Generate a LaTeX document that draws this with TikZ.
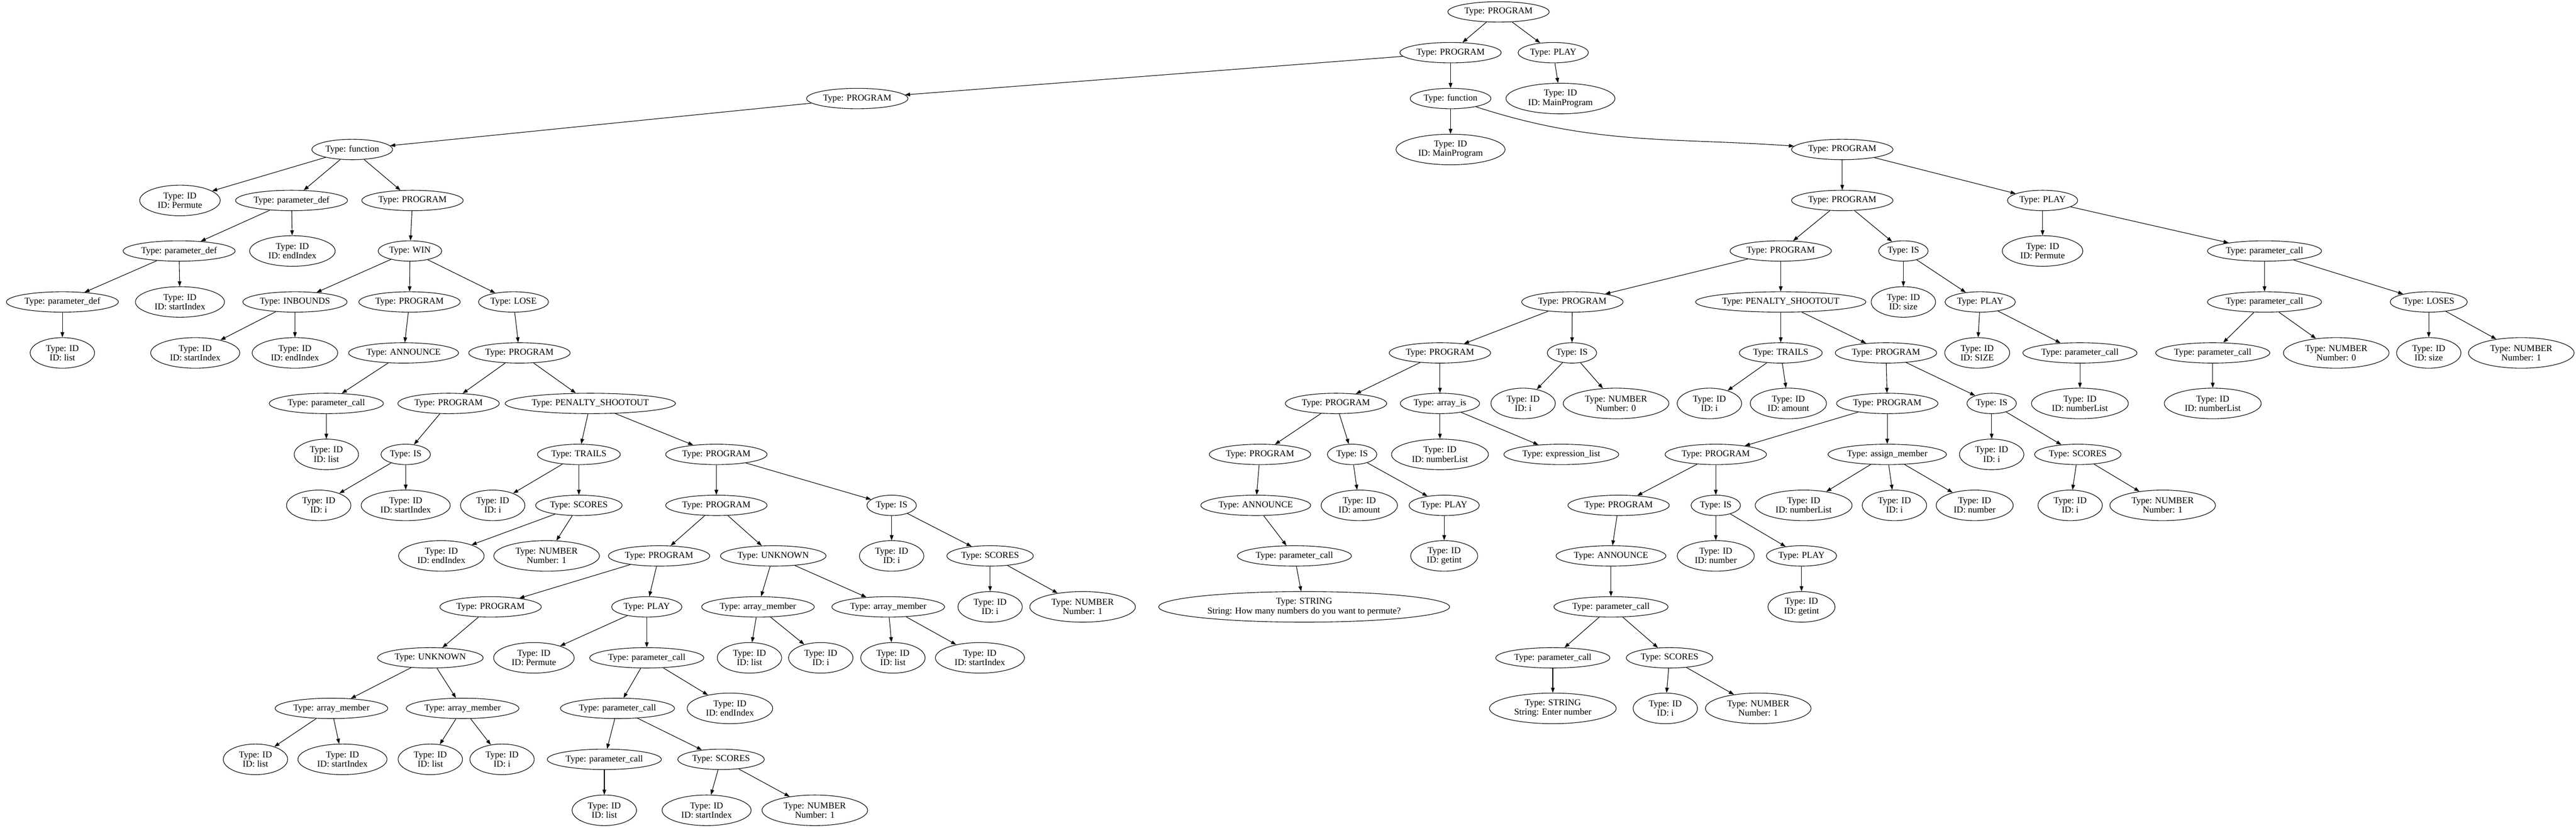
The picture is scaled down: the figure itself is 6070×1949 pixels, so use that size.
\documentclass[tikz,border=0pt]{standalone}
\usepackage{fontspec}
\newfontfamily\astfont{Liberation Serif}
\usetikzlibrary{shapes.geometric,arrows.meta}
\tikzset{
  ast/.style={draw, ellipse, line width=1pt, font=\astfont\fontsize{16}{16.5}\selectfont,
    inner xsep=3pt, inner ysep=3pt, minimum height=36pt, minimum width=54pt},
  leaf/.style={ast, align=center, inner xsep=11pt, inner ysep=2pt, minimum height=54pt},
  edge/.style={line width=1pt, -{Triangle[length=9pt,width=6.5pt]}},
}
\begin{document}
\begin{tikzpicture}[x=0.75pt,y=-0.75pt]
    \useasboundingbox (0,0) rectangle (6070,1949);
    %%% ranks 0-3
    \node[ast] (root) at (3531,28) {Type: PROGRAM};
    \foreach \n/\x/\t in {pgA/3418/PROGRAM, plA/3660/PLAY}
    \node[ast] (\n) at (\x,124) {Type: \t};
    \foreach \n/\x/\t in {pgB/2020/PROGRAM, fnB/3418/function}
    \node[ast] (\n) at (\x,232) {Type: \t};
    \node[leaf] (idB) at (3677,232) {Type: ID\\ID: MainProgram};
    \foreach \n/\x/\t in {fnC/830/function, pgC/4341/PROGRAM}
    \node[ast] (\n) at (\x,352) {Type: \t};
    \node[leaf] (idC) at (3418,352) {Type: ID\\ID: MainProgram};
    %%% rank 4
    \foreach \n/\x/\t in {pdD/687/parameter\_def, pgD1/972/PROGRAM, pgD2/4341/PROGRAM, plD/4813/PLAY}
    \node[ast] (\n) at (\x,472) {Type: \t};
    \node[leaf] (idD1) at (424,472) {Type: ID\\ID: Permute};
    %%% rank 5
    \foreach \n/\x/\t in {pdE/422/parameter\_def, winE/966/WIN, pgE/4196/PROGRAM, isE/4485/IS,
      pcE/5336/parameter\_call}
    \node[ast] (\n) at (\x,591) {Type: \t};
    \foreach \n/\x/\ta/\tb in {idE1/689/ID/{ID: endIndex}, idE2/4813/ID/{ID: Permute}}
    \node[leaf] (\n) at (\x,591) {Type: \ta\\\tb};
    %%% rank 6
    \foreach \n/\x/\t in {pdF/147/parameter\_def, inbF/695/INBOUNDS, pgF1/965/PROGRAM, loseF/1210/LOSE,
      pgF2/3705/PROGRAM, psF/4196/PENALTY\_SHOOTOUT, plF/4666/PLAY, pcF/5336/parameter\_call, lsF/5723/LOSES}
    \node[ast] (\n) at (\x,711) {Type: \t};
    \foreach \n/\x/\ta/\tb in {idF1/424/ID/{ID: startIndex}, idF2/4485/ID/{ID: size}}
    \node[leaf] (\n) at (\x,711) {Type: \ta\\\tb};
    %%% rank 7
    \foreach \n/\x/\t in {anG/951/ANNOUNCE, pgG1/1224/PROGRAM, pgG2/3393/PROGRAM, isG/3704/IS,
      trG/4196/TRAILS, pgG3/4444/PROGRAM, pcG1/4901/parameter\_call, pcG2/5214/parameter\_call}
    \node[ast] (\n) at (\x,831) {Type: \t};
    \foreach \n/\x/\ta/\tb in {idG1/147/ID/{ID: list}, idG2/460/ID/{ID: startIndex}, idG3/695/ID/{ID: endIndex},
      idG4/4659/ID/{ID: SIZE}, nmG1/5505/NUMBER/{Number: 0}, idG5/5723/ID/{ID: size}, nmG2/5941/NUMBER/{Number: 1}}
    \node[leaf] (\n) at (\x,831) {Type: \ta\\\tb};
    %%% rank 8
    \foreach \n/\x/\t in {pcH/769/parameter\_call, pgH1/1057/PROGRAM, psH/1391/PENALTY\_SHOOTOUT,
      pgH2/3148/PROGRAM, aiH/3393/array\_is, pgH3/4447/PROGRAM, isH/4693/IS}
    \node[ast] (\n) at (\x,950) {Type: \t};
    \foreach \n/\x/\ta/\tb in {idH1/3589/ID/{ID: i}, nmH/3808/NUMBER/{Number: 0}, idH2/4028/ID/{ID: i},
      idH3/4214/ID/{ID: amount}, idH4/4901/ID/{ID: numberList}, idH5/5214/ID/{ID: numberList}}
    \node[leaf] (\n) at (\x,950) {Type: \ta\\\tb};
    %%% rank 9
    \foreach \n/\x/\t in {isI/956/IS, trI/1364/TRAILS, pgI1/1688/PROGRAM, pgI2/2969/PROGRAM, isI2/3186/IS,
      elI/3679/expression\_list, pgI3/4043/PROGRAM, amI/4447/assign\_member, scI/4896/SCORES}
    \node[ast] (\n) at (\x,1070) {Type: \t};
    \foreach \n/\x/\ta/\tb in {idI1/769/ID/{ID: list}, idI2/3393/ID/{ID: numberList}, idI3/4693/ID/{ID: i}}
    \node[leaf] (\n) at (\x,1070) {Type: \ta\\\tb};
    %%% rank 10
    \foreach \n/\x/\t in {scJ/1364/SCORES, pgJ1/1688/PROGRAM, isJ/2101/IS, anJ/2959/ANNOUNCE, plJ/3403/PLAY,
      pgJ2/3814/PROGRAM, isJ2/4043/IS}
    \node[ast] (\n) at (\x,1190) {Type: \t};
    \foreach \n/\x/\ta/\tb in {idJ1/751/ID/{ID: i}, idJ2/956/ID/{ID: startIndex}, idJ3/1161/ID/{ID: i},
      idJ4/3203/ID/{ID: amount}, idJ5/4250/ID/{ID: numberList}, idJ6/4464/ID/{ID: i}, idJ7/4653/ID/{ID: number},
      idJ8/4878/ID/{ID: i}, nmJ/5096/NUMBER/{Number: 1}}
    \node[leaf] (\n) at (\x,1190) {Type: \ta\\\tb};
    %%% rank 11
    \foreach \n/\x/\t in {pgK/1553/PROGRAM, unK/1822/UNKNOWN, scK/2333/SCORES, pcK/3050/parameter\_call,
      anK/3796/ANNOUNCE, plK/4245/PLAY}
    \node[ast] (\n) at (\x,1309) {Type: \t};
    \foreach \n/\x/\ta/\tb in {idK1/1040/ID/{ID: endIndex}, nmK1/1288/NUMBER/{Number: 1}, idK2/2101/ID/{ID: i},
      idK3/3403/ID/{ID: getint}, idK4/4043/ID/{ID: number}}
    \node[leaf] (\n) at (\x,1309) {Type: \ta\\\tb};
    %%% rank 12
    \foreach \n/\x/\t in {pgL/1156/PROGRAM, plL/1524/PLAY, amL1/1786/array\_member, amL2/2093/array\_member,
      pcL/3796/parameter\_call}
    \node[ast] (\n) at (\x,1429) {Type: \t};
    \foreach \n/\x/\ta/\tb in {idL1/2333/ID/{ID: i}, nmL/2551/NUMBER/{Number: 1},
      stL/3073/STRING/{String: How many numbers do you want to permute?}, idL2/4245/ID/{ID: getint}}
    \node[leaf] (\n) at (\x,1429) {Type: \ta\\\tb};
    %%% rank 13
    \foreach \n/\x/\t in {unM/1014/UNKNOWN, pcM/1524/parameter\_call, pcM2/3659/parameter\_call, scM/3934/SCORES}
    \node[ast] (\n) at (\x,1549) {Type: \t};
    \foreach \n/\x/\ta/\tb in {idM1/1258/ID/{ID: Permute}, idM2/1766/ID/{ID: list}, idM3/1934/ID/{ID: i},
      idM4/2104/ID/{ID: list}, idM5/2309/ID/{ID: startIndex}}
    \node[leaf] (\n) at (\x,1549) {Type: \ta\\\tb};
    %%% rank 14
    \foreach \n/\x/\t in {amN1/781/array\_member, amN2/1090/array\_member, pcN/1455/parameter\_call}
    \node[ast] (\n) at (\x,1668) {Type: \t};
    \foreach \n/\x/\ta/\tb in {idN1/1720/ID/{ID: endIndex}, stN/3659/STRING/{String: Enter number},
      idN2/3924/ID/{ID: i}, nmN/4143/NUMBER/{Number: 1}}
    \node[leaf] (\n) at (\x,1668) {Type: \ta\\\tb};
    %%% ranks 15-16
    \foreach \n/\x/\t in {pcO/1424/parameter\_call, scO/1699/SCORES}
    \node[ast] (\n) at (\x,1788) {Type: \t};
    \foreach \n/\x/\ta/\tb in {idO1/602/ID/{ID: list}, idO2/807/ID/{ID: startIndex}, idO3/1014/ID/{ID: list},
      idO4/1183/ID/{ID: i}}
    \node[leaf] (\n) at (\x,1788) {Type: \ta\\\tb};
    \foreach \n/\x/\ta/\tb in {idP1/1424/ID/{ID: list}, idP2/1665/ID/{ID: startIndex}, nmP/1920/NUMBER/{Number: 1}}
    \node[leaf] (\n) at (\x,1908) {Type: \ta\\\tb};
    %%% edges
    \foreach \pa/\ch in {root/pgA, root/plA, plA/idB, pgA/pgB, pgA/fnB, fnB/idC, pgB/fnC,
      fnC/idD1, fnC/pdD, fnC/pgD1, pdD/pdE, pdD/idE1, pdE/pdF, pdE/idF1, pdF/idG1,
      pgD1/winE, winE/inbF, winE/pgF1, winE/loseF, inbF/idG2, inbF/idG3, pgF1/anG, anG/pcH, pcH/idI1,
      loseF/pgG1, pgG1/pgH1, pgG1/psH, pgH1/isI, isI/idJ1, isI/idJ2, psH/trI, psH/pgI1,
      trI/idJ3, trI/scJ, scJ/idK1, scJ/nmK1, pgI1/pgJ1, pgI1/isJ, isJ/idK2, isJ/scK, scK/idL1, scK/nmL,
      pgJ1/pgK, pgJ1/unK, unK/amL1, unK/amL2, amL1/idM2, amL1/idM3, amL2/idM4, amL2/idM5,
      pgK/pgL, pgK/plL, pgL/unM, unM/amN1, unM/amN2, amN1/idO1, amN1/idO2, amN2/idO3, amN2/idO4,
      plL/idM1, plL/pcM, pcM/pcN, pcM/idN1, pcN/pcO, pcN/scO, pcO/idP1, scO/idP2, scO/nmP,
      pgC/pgD2, pgC/plD, pgD2/pgE, pgD2/isE, isE/idF2, isE/plF, plF/idG4, plF/pcG1, pcG1/idH4,
      plD/idE2, plD/pcE, pcE/pcF, pcE/lsF, pcF/pcG2, pcF/nmG1, pcG2/idH5, lsF/idG5, lsF/nmG2,
      pgE/pgF2, pgE/psF, pgF2/pgG2, pgF2/isG, isG/idH1, isG/nmH, pgG2/pgH2, pgG2/aiH, aiH/idI2, aiH/elI,
      pgH2/pgI2, pgH2/isI2, pgI2/anJ, anJ/pcK, pcK/stL, isI2/idJ4, isI2/plJ, plJ/idK3,
      psF/trG, psF/pgG3, trG/idH2, trG/idH3, pgG3/pgH3, pgG3/isH, pgH3/pgI3, pgH3/amI,
      pgI3/pgJ2, pgI3/isJ2, pgJ2/anK, anK/pcL, pcL/pcM2, pcL/scM, pcM2/stN, scM/idN2, scM/nmN,
      isJ2/idK4, isJ2/plK, plK/idL2, amI/idJ5, amI/idJ6, amI/idJ7, isH/idI3, isH/scI, scI/idJ8, scI/nmJ}
    \draw[edge] (\pa) -- (\ch);
    \draw[edge] (fnB) to[out=-18,in=176] (pgC);
\end{tikzpicture}
\end{document}
